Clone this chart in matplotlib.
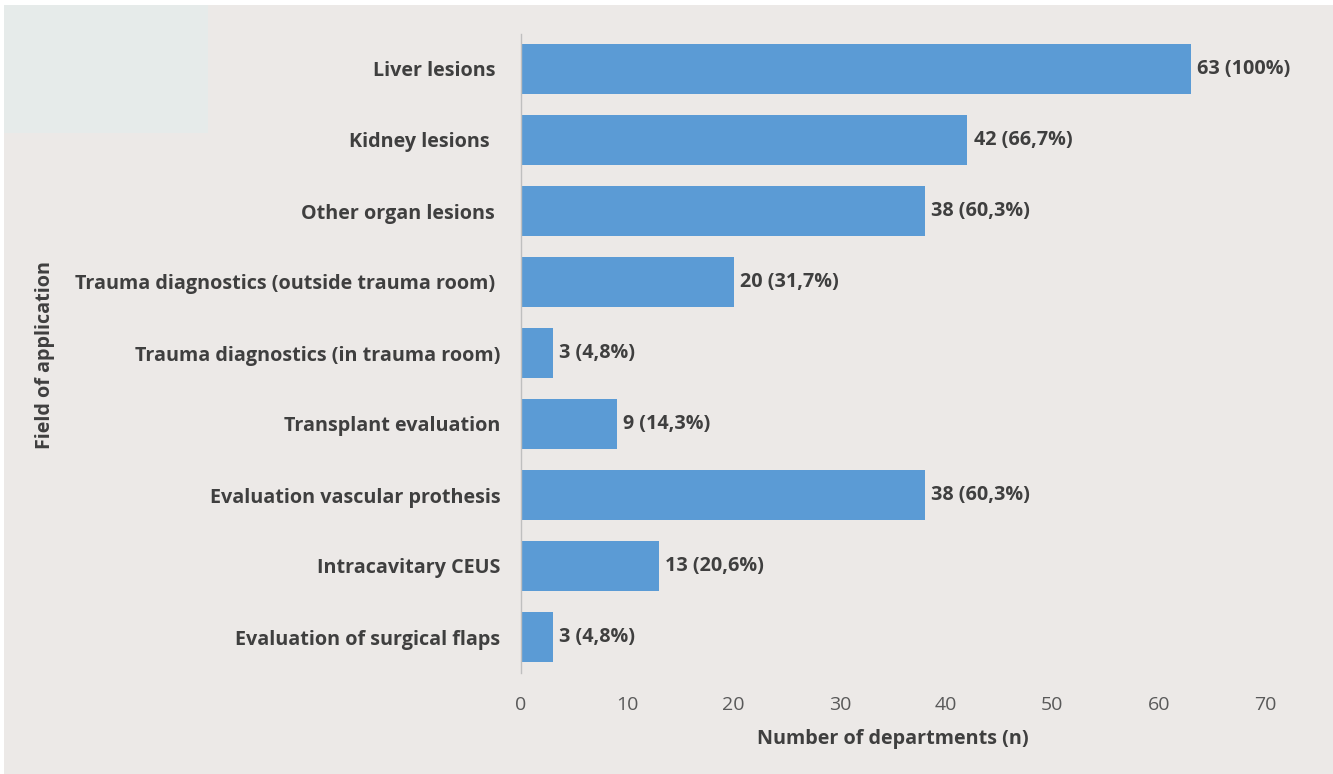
import matplotlib
matplotlib.use("Agg")
import matplotlib.pyplot as plt
from matplotlib.patches import Rectangle

categories = [
    "Liver lesions ",
    "Kidney lesions  ",
    "Other organ lesions ",
    "Trauma diagnostics (outside trauma room) ",
    "Trauma diagnostics (in trauma room)",
    "Transplant evaluation",
    "Evaluation vascular prothesis",
    "Intracavitary CEUS",
    "Evaluation of surgical flaps",
]
counts = [63, 42, 38, 20, 3, 9, 38, 13, 3]
value_labels = ["63 (100%)", "42 (66,7%)", "38 (60,3%)", "20 (31,7%)", "3 (4,8%)",
                "9 (14,3%)", "38 (60,3%)", "13 (20,6%)", "3 (4,8%)"]
xticks = [0, 10, 20, 30, 40, 50, 60, 70]

plt.rcParams['font.family'] = ['Open Sans', 'DejaVu Sans']

W, H = 1333, 774
fig = plt.figure(figsize=(W / 100, H / 100), dpi=100)
fig.patch.set_facecolor("white")
bg = "#ECE9E7"
fig.add_artist(Rectangle((4 / W, 0), 1, 1 - 5 / H, transform=fig.transFigure,
                         facecolor=bg, edgecolor="none", zorder=-10))
fig.add_artist(Rectangle((4 / W, 1 - 133 / H), 204 / W, 128 / H, transform=fig.transFigure,
                         facecolor="#E6EBEA", edgecolor="none", zorder=-9))

ax = fig.add_axes([521 / W, 1 - 672.5 / H, (1265 - 521) / W, (672.5 - 33.5) / H])
ax.set_facecolor("none")

fs = 14.2
txt = "#3F3F3F"
y = list(range(len(categories)))
ax.barh(y, counts, height=0.70, color="#5B9BD5", zorder=2)
ax.set_ylim(len(categories) - 0.5, -0.5)
ax.set_xlim(0, 70)
ax.set_yticks(y)
ax.set_yticklabels(categories, fontsize=fs, fontweight="bold", color=txt)
ax.set_xticks(xticks)
ax.set_xticklabels([str(t) for t in xticks], fontsize=14, color="#595959")
ax.tick_params(axis="y", length=0, pad=15)
ax.tick_params(axis="x", length=0, pad=17)

for s in ["top", "right", "bottom"]:
    ax.spines[s].set_visible(False)
ax.spines["left"].set_color("#BFBFBF")
ax.spines["left"].set_linewidth(1.0)

for yi, c, lab in zip(y, counts, value_labels):
    ax.annotate(lab, xy=(c, yi), xytext=(4.5, 0), textcoords="offset points",
                va="center", ha="left", fontsize=fs, fontweight="bold", color=txt)

ax.set_xlabel("Number of departments (n)", fontsize=fs, fontweight="bold",
              color=txt, labelpad=11)
fig.text(45 / W, 1 - 355 / H, "Field of application", rotation=90, ha="center", va="center",
         fontsize=fs, fontweight="bold", color=txt)

fig.savefig("out.png", dpi=100, facecolor=fig.get_facecolor())
